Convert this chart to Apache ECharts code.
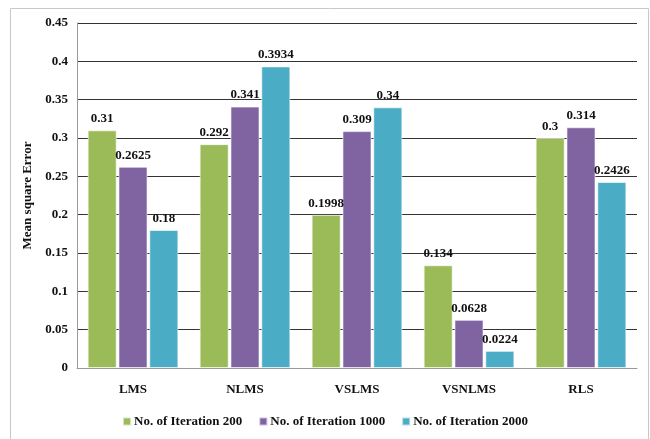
<!DOCTYPE html>
<html lang="en">
<head>
    <meta charset="UTF-8">
    <title>Mean square Error</title>
    <style>
        body { margin: 0; background: #fff; }
        #chartContainer { width: 650px; height: 439px; }
    </style>
    <script src="https://cdn.jsdelivr.net/npm/echarts@6/dist/echarts.min.js"></script>
</head>
<body>
    <div id="chartContainer"></div>
    <script>
        const categories = ['LMS', 'NLMS', 'VSLMS', 'VSNLMS', 'RLS'];
        const iter200 = [0.31, 0.292, 0.1998, 0.134, 0.3];
        const iter1000 = [0.2625, 0.341, 0.309, 0.0628, 0.314];
        const iter2000 = [0.18, 0.3934, 0.34, 0.0224, 0.2426];
        const seriesNames = ['No. of Iteration 200', 'No. of Iteration 1000', 'No. of Iteration 2000'];
        const colors = ['#9BBB59', '#8064A2', '#4BACC6'];

        const font = '"Liberation Serif", "Times New Roman", serif';

        function makeSeries(name, data, color) {
            return {
                name: name,
                type: 'bar',
                data: data,
                barGap: '6%',
                barCategoryGap: '19%',
                itemStyle: { color: color, borderColor: 'rgba(255,255,255,0.6)', borderWidth: 1 },
                label: {
                    show: true,
                    position: 'top',
                    distance: 5,
                    color: '#111',
                    fontFamily: font,
                    fontWeight: 'bold',
                    fontSize: 13
                }
            };
        }

        const chart = echarts.init(document.getElementById('chartContainer'));
        chart.setOption({
            animation: false,
            color: colors,
            graphic: [{
                type: 'rect',
                shape: { x: 10.5, y: 8.5, width: 638, height: 440 },
                style: { fill: 'none', stroke: '#c8c8c8', lineWidth: 1 },
                silent: true
            }],
            grid: { left: 77, right: 13, top: 23, bottom: 71 },
            legend: {
                bottom: 6,
                left: 'center',
                itemWidth: 8,
                itemHeight: 8,
                itemGap: 16,
                icon: 'rect',
                textStyle: { fontFamily: font, fontWeight: 'bold', fontSize: 13, color: '#111', padding: [0, 0, 0, -2] },
                data: seriesNames
            },
            xAxis: {
                type: 'category',
                data: categories,
                axisLine: { lineStyle: { color: '#999' } },
                axisTick: { show: false },
                axisLabel: { margin: 15, color: '#111', fontFamily: font, fontWeight: 'bold', fontSize: 13 }
            },
            yAxis: {
                type: 'value',
                min: 0,
                max: 0.45,
                interval: 0.05,
                name: 'Mean square Error',
                nameLocation: 'middle',
                nameGap: 42,
                nameRotate: 90,
                nameTextStyle: { fontFamily: font, fontWeight: 'bold', fontSize: 13, color: '#111' },
                axisLine: { show: true, lineStyle: { color: '#999' } },
                axisTick: { show: false },
                axisLabel: {
                    margin: 9,
                    color: '#111',
                    fontFamily: font,
                    fontWeight: 'bold',
                    fontSize: 13,
                    formatter: v => String(parseFloat(v.toFixed(2)))
                },
                splitLine: { lineStyle: { color: '#333', width: 1 } }
            },
            series: [
                makeSeries(seriesNames[0], iter200, colors[0]),
                makeSeries(seriesNames[1], iter1000, colors[1]),
                makeSeries(seriesNames[2], iter2000, colors[2])
            ]
        });
    </script>
</body>
</html>
